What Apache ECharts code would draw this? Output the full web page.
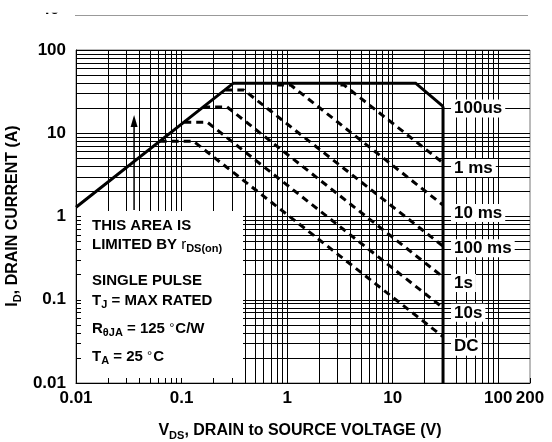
<!DOCTYPE html>
<html><head><meta charset="utf-8">
<script src="https://cdn.jsdelivr.net/npm/echarts@6/dist/echarts.min.js"></script>
<style>html,body{margin:0;padding:0;background:#fff}#c{width:552px;height:442px}</style>
</head><body><div id="c"></div>
<script>
// ---- data ----
const xLabelValues = [0.01, 0.1, 1, 10, 100, 200];
const yLabelValues = [0.01, 0.1, 1, 10, 100];
const gridMantissas = [1, 2, 3, 4, 5, 6, 7, 8, 9];
const xDecades = [0.01, 0.1, 1, 10];
const yDecades = [0.01, 0.1, 1, 10];

// rDS(on) / current limit, ending with the 100us corner
const limitName = '100us';
const limitV = [0.01, 0.31, 16.5, 30];
const limitI = [1.29, 40, 40, 21];
// BVDSS vertical limit
const bvV = [30, 30];
const bvI = [21, 0.01];

// pulse-width lines
const pulseNames = ['1 ms', '10 ms', '100 ms', '1s', '10s', 'DC'];
const pulseV = [
  [3.2, 3.45, 30],
  [0.8, 1.08, 30],
  [0.26, 0.39, 30],
  [0.16, 0.27, 30],
  [0.106, 0.175, 30],
  [0.062, 0.13, 30]
];
const pulseI = [
  [38, 38, 4.4],
  [38, 38, 1.37],
  [33, 33, 0.44],
  [20.7, 20.7, 0.1875],
  [13.6, 13.6, 0.08],
  [8, 8, 0.036]
];
// arrow annotation
const arrowV = [0.0355, 0.0355];
const arrowI = [1.2, 14];

// ---- derived tick lists ----
const xGridValues = [];
xDecades.forEach(d => gridMantissas.forEach(m => xGridValues.push(+(d * m).toPrecision(3))));
xGridValues.push(100);
const yGridValues = [];
yDecades.forEach(d => gridMantissas.forEach(m => yGridValues.push(+(d * m).toPrecision(3))));
yGridValues.push(100);
const xTickValues = xGridValues.concat([200]);

// ---- layout / style ----
const font = "'Liberation Sans', Arial, Helvetica, sans-serif";
const labelDy = [5, 8, 2, 6, 5, 10];
const limitLabelDy = 2;
const fmt = v => String(+Number(v).toPrecision(3));
const endLabelBase = {
  show: true, color: '#000', fontSize: 17, fontWeight: 'bold', fontFamily: font,
  backgroundColor: '#fff', padding: [1, 3, 0, 3], distance: 8
};

const series = [];
series.push({
  name: limitName, type: 'line', xAxisIndex: 0, yAxisIndex: 0, z: 4,
  data: limitV.map((v, i) => [v, limitI[i]]),
  symbol: 'none', lineStyle: { color: '#000', width: 3, join: 'miter' },
  endLabel: Object.assign({}, endLabelBase, { formatter: limitName, offset: [0, limitLabelDy] })
});
series.push({
  name: 'BVDSS', type: 'line', xAxisIndex: 0, yAxisIndex: 0, z: 4,
  data: bvV.map((v, i) => [v, bvI[i]]),
  symbol: 'none', lineStyle: { color: '#000', width: 3 }
});
pulseNames.forEach((n, k) => {
  series.push({
    name: n, type: 'line', xAxisIndex: 0, yAxisIndex: 0, z: 4,
    data: pulseV[k].map((v, i) => [v, pulseI[k][i]]),
    symbol: 'none',
    lineStyle: { color: '#000', width: 3, type: [7, 5] },
    endLabel: Object.assign({}, endLabelBase, { formatter: n, offset: [0, labelDy[k]] })
  });
});
series.push({
  name: 'arrow', type: 'line', xAxisIndex: 0, yAxisIndex: 0, z: 4,
  data: [[arrowV[0], arrowI[0]],
         { value: [arrowV[1], arrowI[1]], symbol: 'triangle', symbolSize: [7, 12], itemStyle: { color: '#000' } }],
  symbol: 'none', showSymbol: true,
  lineStyle: { color: '#000', width: 1.5 }
});

const labelStyle = { color: '#000', fontSize: 17, fontWeight: 'bold', fontFamily: font };

const tN = { fontSize: 15, fontWeight: 'bold', fontFamily: font, fill: '#000', color: '#000', verticalAlign: 'top', lineHeight: 17 };
const tS = { fontSize: 11, fontWeight: 'bold', fontFamily: font, fill: '#000', color: '#000', verticalAlign: 'top', lineHeight: 13, padding: [6, 0, 0, 0] };
const tSup = { fontSize: 13, fontWeight: 'normal', fontFamily: font, fill: '#000', color: '#000', verticalAlign: 'top', lineHeight: 13, padding: [0, 1, 0, 0] };
const tNr = { fontSize: 15, fontFamily: font, fill: '#000', color: '#000', verticalAlign: 'top', lineHeight: 17 };
const richBox = { n: tN, s: tS, p: tSup, r: tNr };

function boxText(str, y) {
  return { type: 'text', z: 6, style: { x: 92, y: y, text: str, rich: richBox, fill: '#000', font: 'bold 15px ' + font, align: 'left', verticalAlign: 'middle' } };
}

const tBig = { fontSize: 16, fontWeight: 'bold', fontFamily: font, fill: '#000', color: '#000', verticalAlign: 'top', lineHeight: 18 };
const tBigS = { fontSize: 11, fontWeight: 'bold', fontFamily: font, fill: '#000', color: '#000', verticalAlign: 'top', lineHeight: 13, padding: [7, 0, 0, 0] };

const option = {
  animation: false,
  backgroundColor: '#fff',
  grid: { left: 76, right: 22, top: 50, bottom: 59, show: true, borderColor: '#777', borderWidth: 1, backgroundColor: 'transparent', z: 0 },
  xAxis: [
    { type: 'log', logBase: 10, min: 0.01, max: 200, z: 3, position: 'bottom',
      axisLine: { show: true, onZero: false, lineStyle: { color: '#000', width: 1 } },
      axisTick: { show: true, inside: true, length: 5, customValues: xTickValues, lineStyle: { color: '#000', width: 1 } },
      axisLabel: Object.assign({ customValues: xLabelValues, formatter: fmt, margin: 7 }, labelStyle),
      splitLine: { show: false }, minorTick: { show: false }, minorSplitLine: { show: false } },
    { type: 'log', logBase: 10, min: 0.01, max: 200, z: 1, position: 'bottom',
      axisLine: { show: false }, axisLabel: { show: false },
      axisTick: { show: false, customValues: xGridValues },
      splitLine: { show: true, lineStyle: { color: '#000', width: 1 } } }
  ],
  yAxis: [
    { type: 'log', logBase: 10, min: 0.01, max: 100, z: 3, position: 'left',
      axisLine: { show: true, onZero: false, lineStyle: { color: '#000', width: 1 } },
      axisTick: { show: true, inside: true, length: 5, customValues: yGridValues, lineStyle: { color: '#000', width: 1 } },
      axisLabel: Object.assign({ customValues: yLabelValues, formatter: fmt, margin: 10 }, labelStyle),
      splitLine: { show: false }, minorTick: { show: false }, minorSplitLine: { show: false } },
    { type: 'log', logBase: 10, min: 0.01, max: 100, z: 1, position: 'left',
      axisLine: { show: false }, axisLabel: { show: false },
      axisTick: { show: false, customValues: yGridValues },
      splitLine: { show: true, lineStyle: { color: '#000', width: 1 } } }
  ],
  series: series,
  graphic: { elements: [
    // white area that hides the grid behind the note
    { type: 'rect', z: 2, shape: { x: 77, y: 211, width: 166, height: 171 }, style: { fill: '#fff' } },
    boxText('{n|THIS AREA IS}', 227),
    boxText('{n|LIMITED BY }{r|r}{s|DS(on)}', 246),
    boxText('{n|SINGLE PULSE}', 282),
    boxText('{n|T}{s|J}{n| = MAX RATED}', 302),
    boxText('{n|R}{s|θJA}{n| = 125 }{p|°}{n|C/W}', 330),
    boxText('{n|T}{s|A}{n| = 25 }{p|°}{n|C}', 358),
    // axis titles
    { type: 'text', z: 6, style: { x: 300, y: 432, text: '{n|V}{s|DS}{n|, DRAIN to SOURCE VOLTAGE (V)}', rich: { n: tBig, s: tBigS }, align: 'center', verticalAlign: 'middle', font: 'bold 16px ' + font } },
    { type: 'text', z: 6, x: 14, y: 216, rotation: Math.PI / 2, style: { x: 0, y: 0, text: '{n|I}{s|D}{n|, DRAIN CURRENT (A)}', rich: { n: tBig, s: tBigS }, align: 'center', verticalAlign: 'middle', font: 'bold 16px ' + font } },
    // clipped artefact at the very top
    { type: 'line', z: 1, shape: { x1: 75, y1: 15.5, x2: 528, y2: 15.5 }, style: { stroke: '#999', lineWidth: 1 } },
    { type: 'text', z: 1, style: { x: 50, y: 9.6, text: '40', font: 'bold 17px ' + font, fill: '#000', align: 'center', verticalAlign: 'middle' } },
    { type: 'rect', z: 2, shape: { x: 30, y: 0, width: 40, height: 12.7 }, style: { fill: '#fff' } }
  ] }
};
const chart = echarts.init(document.getElementById('c'));
chart.setOption(option);
</script>
</body></html>
